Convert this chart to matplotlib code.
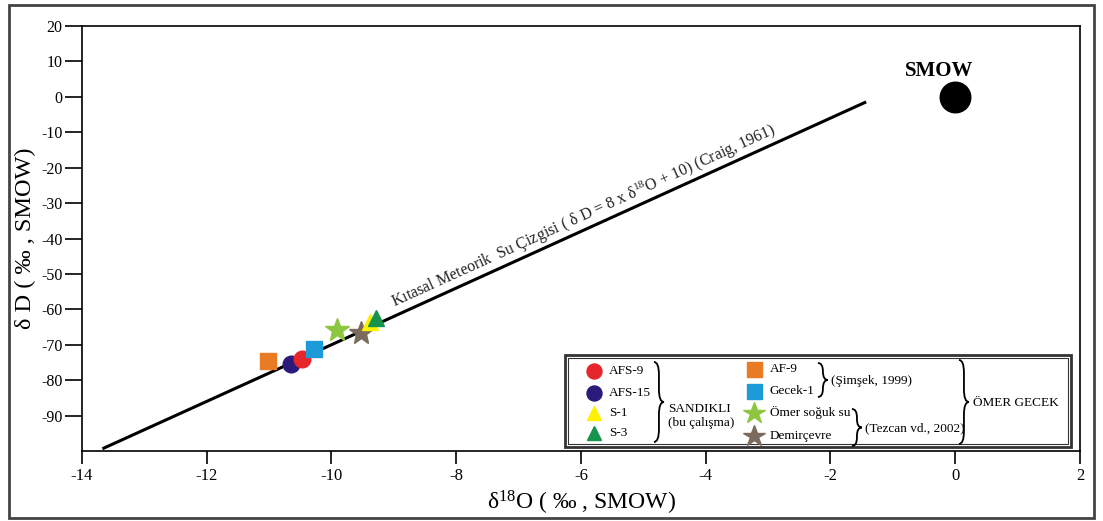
import numpy as np
import matplotlib.pyplot as plt
from matplotlib.path import Path
from matplotlib.patches import PathPatch, Rectangle

plt.rcParams['font.family'] = ['Liberation Serif', 'DejaVu Serif']
plt.rcParams['axes.unicode_minus'] = False
plt.rcParams['mathtext.fontset'] = 'custom'
plt.rcParams['mathtext.rm'] = 'Liberation Serif'
plt.rcParams['mathtext.it'] = 'Liberation Serif:italic'

# sample values (delta 18O, delta D)
labels = ['AF-9', 'AFS-15', 'AFS-9', 'Gecek-1', 'Ömer soğuk su', 'Demirçevre', 'S-1', 'S-3']
d18o = [-11.02, -10.65, -10.47, -10.28, -9.91, -9.53, -9.38, -9.29]
dD = [-74.6, -75.4, -74.0, -71.2, -65.8, -66.7, -63.6, -62.4]
markers = ['s', 'o', 'o', 's', '*', '*', '^', '^']
colors = ['#e97b25', '#2b1a7c', '#e6262b', '#1d9ad8', '#8dc63f', '#7b6b5c', '#fff200', '#17944b']
sizes = [12, 12, 12, 12, 18, 18, 11, 11]

smow_x, smow_y = 0.0, 0.0
gmwl_x = [-13.65, -1.45]  # Craig (1961): dD = 8 * d18O + 10

fig = plt.figure(figsize=(11.03, 5.21), dpi=100)
ax = fig.add_axes([0.0743, 0.1344, 0.9048, 0.8156])

# outer frame of the figure
fig.patches.append(Rectangle((0.008, 0.006), 0.984, 0.985, transform=fig.transFigure,
                             fill=False, lw=2, ec='#444444'))

# meteoric water line
line_x = np.array(gmwl_x)
ax.plot(line_x, 8 * line_x + 10, color='black', lw=2.2, zorder=2)
ax.text(-8.95, 8 * -8.95 + 10 + 0.6, 'Kıtasal Meteorik  Su Çizgisi ( δ D = 8 x δ$^{18}$O + 10) (Craig, 1961)',
        rotation=np.degrees(np.arctan(8)), transform_rotates_text=True, rotation_mode='anchor',
        ha='left', va='bottom', fontsize=11.5, color='#222222')

for x, y, m, c, s in zip(d18o, dD, markers, colors, sizes):
    ax.plot(x, y, marker=m, color=c, markersize=s, mec=c, ls='none', zorder=3)

ax.plot(smow_x, smow_y, 'o', color='black', markersize=22, zorder=3)
ax.text(-0.25, 4.5, 'SMOW', fontsize=15, fontweight='bold', ha='center', va='bottom')

ax.set_xlim(-14, 2)
ax.set_ylim(-100, 20)
ax.set_xticks(np.arange(-14, 3, 2))
ax.set_yticks(np.arange(-90, 21, 10))
ax.tick_params(direction='out', length=9, width=1.2, labelsize=12, pad=3)
ax.tick_params(axis='y', pad=2, length=12, labelsize=11.5)
for sp in ax.spines.values():
    sp.set_linewidth(1.2)
ax.set_xlabel('δ$^{18}$O ( ‰ , SMOW)', fontsize=17, labelpad=4)
ax.set_ylabel('δ D ( ‰ , SMOW)', fontsize=17.5)
ax.yaxis.set_label_coords(-0.046, 0.5)


def to_ax(px, py):
    return (px - 82) / 998, (451 - py) / 425


def brace(x, y0, y1, w=0.01, r=0.03):
    ym = (y0 + y1) / 2
    verts = [(x, y1), (x + w / 2, y1), (x + w / 2, y1 - r),
             (x + w / 2, ym + r), (x + w / 2, ym), (x + w, ym),
             (x + w / 2, ym), (x + w / 2, ym - r),
             (x + w / 2, y0 + r), (x + w / 2, y0), (x, y0)]
    codes = [Path.MOVETO, Path.CURVE3, Path.CURVE3, Path.LINETO, Path.CURVE3, Path.CURVE3,
             Path.CURVE3, Path.CURVE3, Path.LINETO, Path.CURVE3, Path.CURVE3]
    ax.add_patch(PathPatch(Path(verts, codes), transform=ax.transAxes, fill=False, lw=1.3,
                           ec='black', zorder=6))


# legend box
bx0, by0 = to_ax(565, 447)
bx1, by1 = to_ax(1071, 355)
ax.add_patch(Rectangle((bx0, by0), bx1 - bx0, by1 - by0, transform=ax.transAxes,
                       fc='white', ec='#333333', lw=2, zorder=5))
ax.add_patch(Rectangle((bx0 + 0.003, by0 + 0.007), bx1 - bx0 - 0.006, by1 - by0 - 0.014,
                       transform=ax.transAxes, fill=False, ec='#333333', lw=0.8, zorder=5))

legend_left = ['AFS-9', 'AFS-15', 'S-1', 'S-3']
legend_right = ['AF-9', 'Gecek-1', 'Ömer soğuk su', 'Demirçevre']
rows_left = [371, 393, 413, 433]
rows_right = [369, 391, 413, 436]
for lab, py in zip(legend_left, rows_left):
    i = labels.index(lab)
    mx, my = to_ax(594, py)
    ax.plot(mx, my, marker=markers[i], color=colors[i], markersize=sizes[i] * 0.9,
            transform=ax.transAxes, ls='none', zorder=7, clip_on=False)
    tx, ty = to_ax(609, py)
    ax.text(tx, ty, lab, transform=ax.transAxes, fontsize=9.5, va='center', zorder=7)
for lab, py in zip(legend_right, rows_right):
    i = labels.index(lab)
    mx, my = to_ax(754, py)
    ax.plot(mx, my, marker=markers[i], color=colors[i], markersize=sizes[i] * 0.9,
            transform=ax.transAxes, ls='none', zorder=7, clip_on=False)
    tx, ty = to_ax(770, py)
    ax.text(tx, ty, lab, transform=ax.transAxes, fontsize=9.5, va='center', zorder=7)

xb, yb0 = to_ax(654, 442)
_, yb1 = to_ax(654, 362)
brace(xb, yb0, yb1)
tx, ty = to_ax(668, 409)
ax.text(tx, ty, 'SANDIKLI', transform=ax.transAxes, fontsize=9.5, va='center', zorder=7)
tx, ty = to_ax(668, 423)
ax.text(tx, ty, '(bu çalışma)', transform=ax.transAxes, fontsize=9.5, va='center', zorder=7)

xb, yb0 = to_ax(818, 397)
_, yb1 = to_ax(818, 363)
brace(xb, yb0, yb1, r=0.02)
tx, ty = to_ax(831, 381)
ax.text(tx, ty, '(Şimşek, 1999)', transform=ax.transAxes, fontsize=9.5, va='center', zorder=7)

xb, yb0 = to_ax(852, 446)
_, yb1 = to_ax(852, 409)
brace(xb, yb0, yb1, r=0.02)
tx, ty = to_ax(865, 428)
ax.text(tx, ty, '(Tezcan vd., 2002)', transform=ax.transAxes, fontsize=9.5, va='center', zorder=7)

xb, yb0 = to_ax(959, 444)
_, yb1 = to_ax(959, 360)
brace(xb, yb0, yb1)
tx, ty = to_ax(973, 403)
ax.text(tx, ty, 'ÖMER GECEK', transform=ax.transAxes, fontsize=9.5, va='center', zorder=7)

fig.savefig('out.png', dpi=100)
